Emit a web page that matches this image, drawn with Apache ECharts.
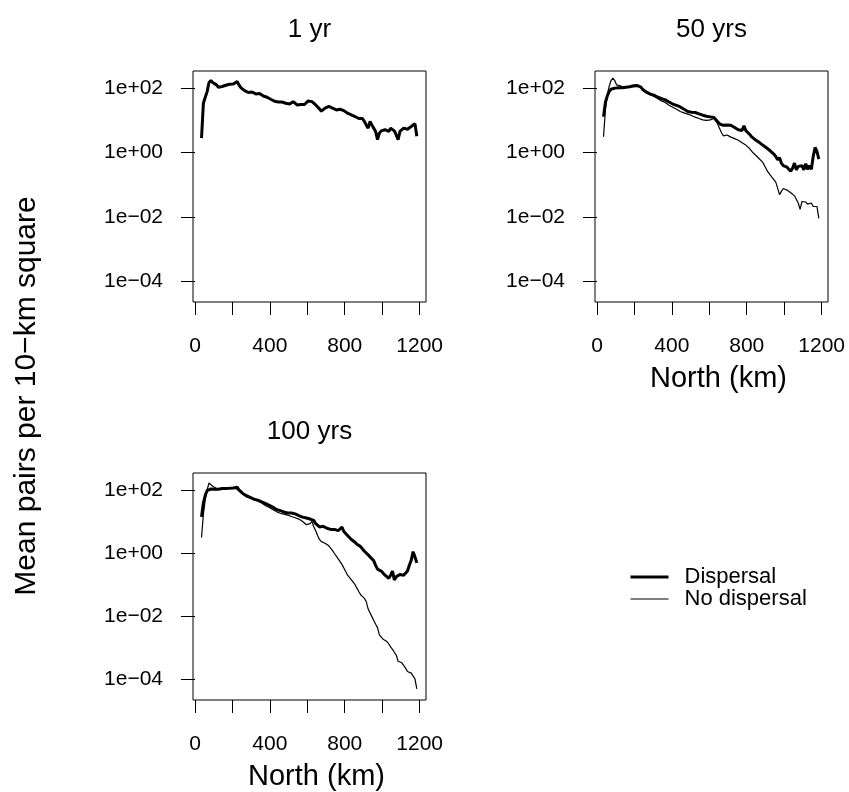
<!DOCTYPE html>
<html><head><meta charset="utf-8">
<script src="https://cdn.jsdelivr.net/npm/echarts@6/dist/echarts.min.js"></script>
<style>html,body{margin:0;padding:0;background:#fff}#chart{width:849px;height:792px}</style>
</head><body><div id="chart"></div>
<script>
// North position of each 10-km band (km)
const northKm = [35,45,55,65,75,85,95,105,115,125,135,145,155,165,175,185,195,205,215,225,
235,245,255,265,275,285,295,305,315,325,335,345,355,365,375,385,395,405,415,425,
435,445,455,465,475,485,495,505,515,525,535,545,555,565,575,585,595,605,615,625,
635,645,655,665,675,685,695,705,715,725,735,745,755,765,775,785,795,805,815,825,
835,845,855,865,875,885,895,905,915,925,935,945,955,965,975,985,995,1005,1015,1025,
1035,1045,1055,1065,1075,1085,1095,1105,1115,1125,1135,1145,1155,1165,1175,1185];

// Mean pairs per 10-km square
const yr1Dispersal = [2.8,34,52,78,149,172,149,135,126,107,
102,112,115,123,129,132,129,135,135,160,
126,104,92.5,84,78,73,69.5,76,74,66,
73,68,63,57,55,52,47,45,42,39,
36,37,38,37,36,34,33,32,34,38,
34,30,30,31,32,31,34,40,45,38,
34,30,27,22.7,19.2,21,23.8,26,27,25.6,
23.8,22,21,21,22,22,20,18.3,16.7,15.5,
14.8,13.8,13.1,12.2,11.4,10.8,11.4,9.2,7.2,5.7,
9.2,7.2,5.7,4.5,2.5,4.0,4.7,4.8,5.1,5.3,
4.5,5.7,5.7,4.7,3.5,2.5,4.5,5.1,5.7,6.4,
5.3,4.8,6.4,7.2,7.8,3.2];

const yr50Dispersal = [13,36,57,78,92,100,100,102,102,100,
102,107,107,112,110,115,118,115,120,126,
107,90,82,75,68,65,62,60,56,53,
51,47,45,43,40,37,35,32,31,29,
27,26,25,22,19.7,18.8,19.2,17.9,17.5,17.5,
16.7,15.9,15.1,14.4,14.1,13.4,13,12.8,12.5,12.2,
10.8,9,7.8,7.2,7.0,6.9,7.2,6.7,7.0,6.4,
6.0,5.6,5.1,5.4,4.8,6.8,4.8,4.4,3.7,3.1,
2.8,2.5,2.4,2.1,1.9,1.7,1.58,1.40,1.27,1.13,
1.0,0.89,0.75,0.59,0.69,0.47,0.39,0.39,0.35,0.30,
0.26,0.33,0.47,0.29,0.37,0.33,0.39,0.29,0.45,0.30,
0.39,0.30,0.75,1.43,1.08,0.62];

const yr50NoDispersal = [3.1,21,62,112,172,203,172,126,142,118,
107,102,105,107,112,112,115,112,118,123,
102,84,76,71,66,63,59,55,51,47,
43,40,37,36,32,29.5,27.5,25.6,23,22,
20.6,18.8,17.9,17,16.3,15.5,14.4,14.1,13,12.5,
11.9,11.4,10.8,10.3,10.1,9.9,10.1,10.3,10.8,11.4,
9.9,7.7,5.6,4.1,3.3,3.2,3.5,3.3,3.0,2.8,
2.7,2.5,2.4,2.25,2.0,1.85,1.7,1.5,1.33,1.16,
0.96,0.86,0.75,0.65,0.58,0.50,0.39,0.30,0.24,0.23,
0.17,0.17,0.12,0.078,0.049,0.062,0.076,0.073,0.068,0.063,
0.056,0.050,0.045,0.043,0.027,0.017,0.030,0.033,0.029,0.025,
0.022,0.027,0.021,0.024,0.021,0.009];

const yr100Dispersal = [14,39,67,95,105,107,105,105,107,105,
107,110,107,110,112,112,110,115,115,121,
100,87,77,70,65,61,58,54,51,49,
47,45,42,39,37,35,33,31,28.5,26.6,
24,23,22,21,20,19.5,18.6,18.2,18.6,17.8,
17.4,16.1,15.4,14.7,13.7,13.4,12.8,12.5,11.9,11.9,
10.8,8.5,7.4,6.7,6.9,7.0,6.4,6.1,5.8,5.6,
5.7,5.6,5.2,5.1,5.6,6.7,4.8,4.2,3.6,3.2,
2.7,2.4,2.2,1.9,1.7,1.6,1.35,1.14,0.99,0.88,
0.76,0.66,0.57,0.41,0.31,0.29,0.27,0.245,0.20,0.176,
0.16,0.20,0.27,0.142,0.18,0.20,0.21,0.195,0.20,0.23,
0.27,0.41,0.59,1.11,0.76,0.49];

const yr100NoDispersal = [3.1,17,50,102,164,185,130,133,110,105,
103,105,107,107,110,110,110,112,112,112,
95,83,73,67,61,57,54,51,49,47,
45,42,39,35,32,30,28,26,24,22.5,
20.5,19,18.2,17.8,17,16.6,15.8,15.1,14.4,13.7,
13.1,12.5,11.9,11.1,10,8.7,7.9,8.1,8.5,10,
6.7,5.1,3.6,2.7,2.3,2.2,2.05,1.9,1.7,1.48,
1.2,0.97,0.80,0.66,0.54,0.44,0.34,0.26,0.20,0.17,
0.15,0.12,0.10,0.078,0.061,0.048,0.043,0.037,0.029,0.017,
0.017,0.0098,0.0074,0.0056,0.0044,0.0026,0.0022,0.0019,0.0017,0.0016,
0.00134,0.00108,0.0009,0.00073,0.0006,0.00038,0.00034,0.00034,0.0003,0.00023,
0.00018,0.00017,0.00016,0.00015,0.000105,0.000051];

const panelTitles = ['1 yr', '50 yrs', '100 yrs'];
const xTickValues = [0, 200, 400, 600, 800, 1000, 1200];
const xLabelValues = [0, 400, 800, 1200];
const yTickValues = [1e-4, 1e-2, 1, 100];
const xAxisTitle = 'North (km)';
const yAxisTitle = 'Mean pairs per 10\u2212km square';
const seriesNames = ['Dispersal', 'No dispersal'];

const FONT = '"Liberation Sans", Arial, Helvetica, sans-serif';
const THICK = 3, THIN = 1.2;
const grids = [
  {left: 193, top: 71, width: 233, height: 231},
  {left: 595, top: 71, width: 233, height: 231},
  {left: 193, top: 473, width: 233, height: 231}
];

function sci(v) {
  const e = Math.round(Math.log10(v));
  const s = e < 0 ? '\u2212' : '+';
  const a = Math.abs(e);
  return '1e' + s + (a < 10 ? '0' : '') + a;
}
function plain(v) { return String(Math.round(v)); }
function pairs(arr) { return northKm.map((x, i) => [x, arr[i]]); }

const xAxes = grids.map((g, i) => ({
  type: 'value', gridIndex: i, min: -10.5, max: 1234,
  axisLine: {show: false},
  splitLine: {show: false},
  axisTick: {show: true, customValues: xTickValues, length: 13, lineStyle: {color: '#000', width: 1}},
  axisLabel: {customValues: xLabelValues, formatter: plain, fontSize: 21, color: '#000', fontFamily: FONT, margin: 34},
  name: i === 0 ? '' : xAxisTitle,
  nameLocation: 'middle', nameGap: 62,
  nameTextStyle: {fontSize: 29, color: '#000', fontFamily: FONT, padding: [0, 0, 0, 14]}
}));

const yAxes = grids.map((g, i) => ({
  type: 'log', logBase: 10, gridIndex: i,
  min: Math.pow(10, -4.645), max: Math.pow(10, 2.532),
  axisLine: {show: false},
  splitLine: {show: false},
  minorTick: {show: false},
  axisTick: {show: true, customValues: yTickValues, length: 14, lineStyle: {color: '#000', width: 1}},
  axisLabel: {customValues: yTickValues, formatter: sci, fontSize: 21, color: '#000', fontFamily: FONT, margin: 30}
}));

function line(name, arr, idx, width) {
  return {
    type: 'line', name: name, xAxisIndex: idx, yAxisIndex: idx,
    data: pairs(arr), symbol: 'none', silent: true,
    lineStyle: {color: '#000', width: width},
    itemStyle: {color: '#000'}
  };
}

const option = {
  backgroundColor: '#fff',
  animation: false,
  grid: grids.map(g => Object.assign({show: true, borderColor: '#000', borderWidth: 1, backgroundColor: 'transparent'}, g)),
  xAxis: xAxes,
  yAxis: yAxes,
  legend: {
    data: [
      {name: seriesNames[0], lineStyle: {width: THICK, color: '#000'}},
      {name: seriesNames[1], lineStyle: {width: THIN, color: '#000'}}
    ],
    orient: 'vertical', left: 629, top: 566, padding: 0,
    itemWidth: 38, itemHeight: 14, itemGap: 0,
    itemStyle: {opacity: 0},
    selectedMode: false,
    textStyle: {fontSize: 22, lineHeight: 22, color: '#000', fontFamily: FONT, padding: [0, 0, 0, 11]}
  },
  graphic: [
    {type: 'text', x: 309.5, y: 30, style: {text: panelTitles[0], align: 'center', verticalAlign: 'middle', fontSize: 26, fontFamily: FONT, fill: '#000'}},
    {type: 'text', x: 711.5, y: 30, style: {text: panelTitles[1], align: 'center', verticalAlign: 'middle', fontSize: 26, fontFamily: FONT, fill: '#000'}},
    {type: 'text', x: 309.5, y: 431.5, style: {text: panelTitles[2], align: 'center', verticalAlign: 'middle', fontSize: 26, fontFamily: FONT, fill: '#000'}},
    {type: 'text', x: 27, y: 396, rotation: Math.PI / 2, style: {text: yAxisTitle, align: 'center', verticalAlign: 'middle', fontSize: 30, fontFamily: FONT, fill: '#000'}}
  ],
  series: [
    line(seriesNames[0], yr1Dispersal, 0, THICK),
    line(seriesNames[0], yr50Dispersal, 1, THICK),
    line(seriesNames[1], yr50NoDispersal, 1, THIN),
    line(seriesNames[0], yr100Dispersal, 2, THICK),
    line(seriesNames[1], yr100NoDispersal, 2, THIN)
  ]
};

const chart = echarts.init(document.getElementById('chart'), null, {renderer: 'canvas'});
chart.setOption(option);
</script>
</body></html>
